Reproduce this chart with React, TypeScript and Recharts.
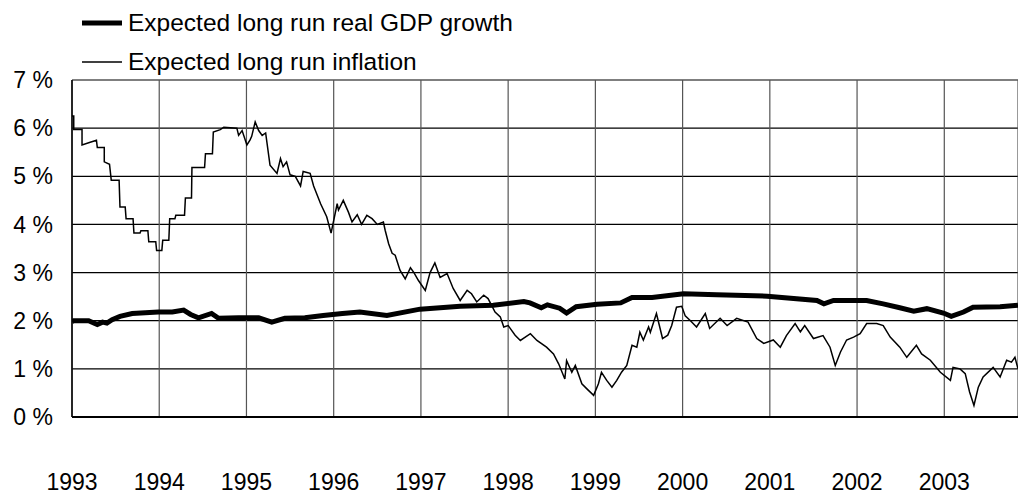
import { LineChart, Line, XAxis, YAxis, CartesianGrid, Legend } from 'recharts';

// decimal year, percent
const gdpSeries: [number, number][] = [
  [1993.0, 1.98], [1993.02, 2.0], [1993.19, 2.0], [1993.29, 1.92], [1993.35, 1.97],
  [1993.4, 1.95], [1993.46, 2.02], [1993.55, 2.09], [1993.69, 2.15], [1993.99, 2.18],
  [1994.15, 2.18], [1994.28, 2.22], [1994.36, 2.13], [1994.45, 2.06], [1994.6, 2.15],
  [1994.68, 2.05], [1994.91, 2.06], [1995.14, 2.06], [1995.29, 1.97], [1995.44, 2.05],
  [1995.67, 2.06], [1995.88, 2.11], [1996.1, 2.15], [1996.3, 2.18], [1996.61, 2.11],
  [1996.99, 2.24], [1997.45, 2.3], [1997.83, 2.32], [1998.18, 2.4], [1998.25, 2.37],
  [1998.38, 2.27], [1998.45, 2.33], [1998.59, 2.26], [1998.67, 2.16], [1998.78, 2.29],
  [1999.02, 2.34], [1999.29, 2.37], [1999.42, 2.48], [1999.65, 2.48], [2000.01, 2.56],
  [2000.39, 2.54], [2000.97, 2.51], [2001.54, 2.42], [2001.62, 2.35], [2001.73, 2.42],
  [2002.11, 2.42], [2002.3, 2.35], [2002.49, 2.27], [2002.65, 2.2], [2002.8, 2.25],
  [2002.99, 2.16], [2003.08, 2.09], [2003.22, 2.18], [2003.33, 2.28], [2003.64, 2.29],
  [2003.845, 2.32],
];

const inflationSeries: [number, number][] = [
  [1993.0, 6.25], [1993.02, 6.25], [1993.02, 5.97], [1993.115, 5.97], [1993.115, 5.65],
  [1993.2, 5.7], [1993.28, 5.75], [1993.29, 5.6], [1993.37, 5.6], [1993.37, 5.3],
  [1993.43, 5.25], [1993.45, 4.92], [1993.54, 4.92], [1993.55, 4.36], [1993.61, 4.36],
  [1993.62, 4.12], [1993.7, 4.12], [1993.71, 3.82], [1993.78, 3.82], [1993.79, 3.87],
  [1993.87, 3.87], [1993.88, 3.64], [1993.96, 3.64], [1993.97, 3.46], [1994.03, 3.46],
  [1994.04, 3.67], [1994.11, 3.67], [1994.12, 4.12], [1994.18, 4.12], [1994.19, 4.19],
  [1994.29, 4.19], [1994.3, 4.55], [1994.37, 4.55], [1994.375, 5.18], [1994.52, 5.18],
  [1994.53, 5.47], [1994.61, 5.47], [1994.62, 5.92], [1994.7, 5.97], [1994.74, 6.02],
  [1994.89, 6.0], [1994.91, 5.85], [1994.95, 5.95], [1995.005, 5.65], [1995.04, 5.75],
  [1995.06, 5.83], [1995.1, 6.13], [1995.14, 5.95], [1995.18, 5.85], [1995.22, 5.9],
  [1995.27, 5.23], [1995.35, 5.06], [1995.39, 5.37], [1995.42, 5.2], [1995.46, 5.3],
  [1995.5, 5.03], [1995.56, 5.0], [1995.62, 4.8], [1995.65, 5.1], [1995.73, 5.06],
  [1995.77, 4.8], [1995.85, 4.43], [1995.92, 4.16], [1995.97, 3.82], [1996.04, 4.43],
  [1996.055, 4.3], [1996.11, 4.5], [1996.17, 4.25], [1996.21, 4.05], [1996.27, 4.2],
  [1996.32, 4.0], [1996.38, 4.19], [1996.44, 4.12], [1996.5, 4.0], [1996.57, 4.05],
  [1996.59, 3.88], [1996.63, 3.6], [1996.67, 3.4], [1996.705, 3.36], [1996.76, 3.05],
  [1996.82, 2.87], [1996.88, 3.1], [1996.92, 3.0], [1996.97, 2.84], [1997.05, 2.63],
  [1997.105, 3.0], [1997.16, 3.2], [1997.22, 2.9], [1997.3, 2.98], [1997.37, 2.67],
  [1997.45, 2.42], [1997.53, 2.63], [1997.58, 2.56], [1997.64, 2.39], [1997.72, 2.53],
  [1997.77, 2.46], [1997.85, 2.18], [1997.91, 2.08], [1997.95, 1.87], [1998.0, 1.9],
  [1998.08, 1.7], [1998.14, 1.59], [1998.255, 1.73], [1998.33, 1.59], [1998.44, 1.45],
  [1998.52, 1.31], [1998.58, 1.1], [1998.65, 0.79], [1998.67, 1.17], [1998.73, 0.93],
  [1998.77, 1.07], [1998.845, 0.69], [1998.9, 0.59], [1998.98, 0.45], [1999.035, 0.69],
  [1999.07, 0.93], [1999.13, 0.76], [1999.19, 0.62], [1999.245, 0.76], [1999.3, 0.93],
  [1999.36, 1.07], [1999.42, 1.49], [1999.475, 1.45], [1999.51, 1.76], [1999.55, 1.6],
  [1999.61, 1.87], [1999.63, 1.76], [1999.7, 2.15], [1999.77, 1.63], [1999.83, 1.7],
  [1999.875, 1.9], [1999.93, 2.28], [1999.99, 2.3], [2000.03, 2.1], [2000.09, 2.0],
  [2000.16, 1.87], [2000.26, 2.15], [2000.31, 1.84], [2000.43, 2.05], [2000.51, 1.9],
  [2000.62, 2.05], [2000.75, 1.97], [2000.85, 1.63], [2000.93, 1.53], [2001.04, 1.6],
  [2001.12, 1.45], [2001.19, 1.69], [2001.29, 1.94], [2001.35, 1.77], [2001.4, 1.9],
  [2001.5, 1.63], [2001.61, 1.69], [2001.69, 1.45], [2001.75, 1.07], [2001.81, 1.35],
  [2001.88, 1.6], [2001.96, 1.66], [2002.035, 1.73], [2002.11, 1.94], [2002.225, 1.94],
  [2002.3, 1.9], [2002.38, 1.66], [2002.49, 1.45], [2002.57, 1.24], [2002.68, 1.49],
  [2002.74, 1.31], [2002.84, 1.18], [2002.955, 0.93], [2003.07, 0.76], [2003.1, 1.03],
  [2003.18, 1.0], [2003.24, 0.9], [2003.29, 0.52], [2003.34, 0.24], [2003.39, 0.62],
  [2003.445, 0.83], [2003.56, 1.03], [2003.64, 0.83], [2003.715, 1.18], [2003.77, 1.14],
  [2003.81, 1.24], [2003.845, 1.0],
];

const yearTicks = [1993, 1994, 1995, 1996, 1997, 1998, 1999, 2000, 2001, 2002, 2003];
const pctTicks = [0, 1, 2, 3, 4, 5, 6, 7];
const seriesNames = ['Expected long run real GDP growth', 'Expected long run inflation'];

const gdpData = gdpSeries.map(([t, v]) => ({ t, v }));
const inflationData = inflationSeries.map(([t, v]) => ({ t, v }));

const font = '"Liberation Sans", Arial, Helvetica, sans-serif';

function LegendBox() {
  return (
    <div style={{ fontFamily: font, fontSize: 24.5, color: '#000' }}>
      {seriesNames.map((name, i) => (
        <div key={name} style={{ display: 'flex', alignItems: 'center', height: 39 }}>
          <svg width={40} height={10} style={{ marginRight: 6 }}>
            <line x1={0} y1={5} x2={40} y2={5} stroke="#000" strokeWidth={i === 0 ? 5 : 1.3} />
          </svg>
          <span>{name}</span>
        </div>
      ))}
    </div>
  );
}

export default function App() {
  return (
    <div style={{ position: 'absolute', left: 0, top: 0, background: '#fff' }}>
      <LineChart width={1018} height={497} margin={{ top: 80, right: 0, bottom: 0, left: 0 }}>
        <CartesianGrid horizontal={true} vertical={false} stroke="#000" strokeWidth={1.2} />
        <CartesianGrid horizontal={false} vertical={true} stroke="#555" strokeWidth={1.2} />
        <XAxis
          dataKey="t"
          type="number"
          domain={[1993, 2003.845]}
          ticks={yearTicks}
          allowDataOverflow
          height={80}
          tickSize={0}
          tickMargin={57}
          axisLine={{ stroke: '#000', strokeWidth: 2 }}
          tick={{ fill: '#000', fontSize: 23, fontFamily: font }}
          interval={0}
        />
        <YAxis
          type="number"
          domain={[0, 7]}
          ticks={pctTicks}
          width={72}
          tickSize={0}
          tickMargin={19}
          axisLine={{ stroke: '#000', strokeWidth: 1.5 }}
          tickFormatter={(v: number) => `${v} %`}
          tick={{ fill: '#000', fontSize: 23, fontFamily: font }}
          interval={0}
        />
        <Legend
          layout="horizontal"
          verticalAlign="middle"
          align="center"
          wrapperStyle={{ top: 3, left: 82, width: 520 }}
          content={() => <LegendBox />}
        />
        <Line
          data={inflationData}
          dataKey="v"
          type="linear"
          stroke="#000"
          strokeWidth={1.5}
          dot={false}
          isAnimationActive={false}
          name={seriesNames[1]}
        />
        <Line
          data={gdpData}
          dataKey="v"
          type="linear"
          stroke="#000"
          strokeWidth={5}
          dot={false}
          isAnimationActive={false}
          name={seriesNames[0]}
        />
      </LineChart>
    </div>
  );
}
